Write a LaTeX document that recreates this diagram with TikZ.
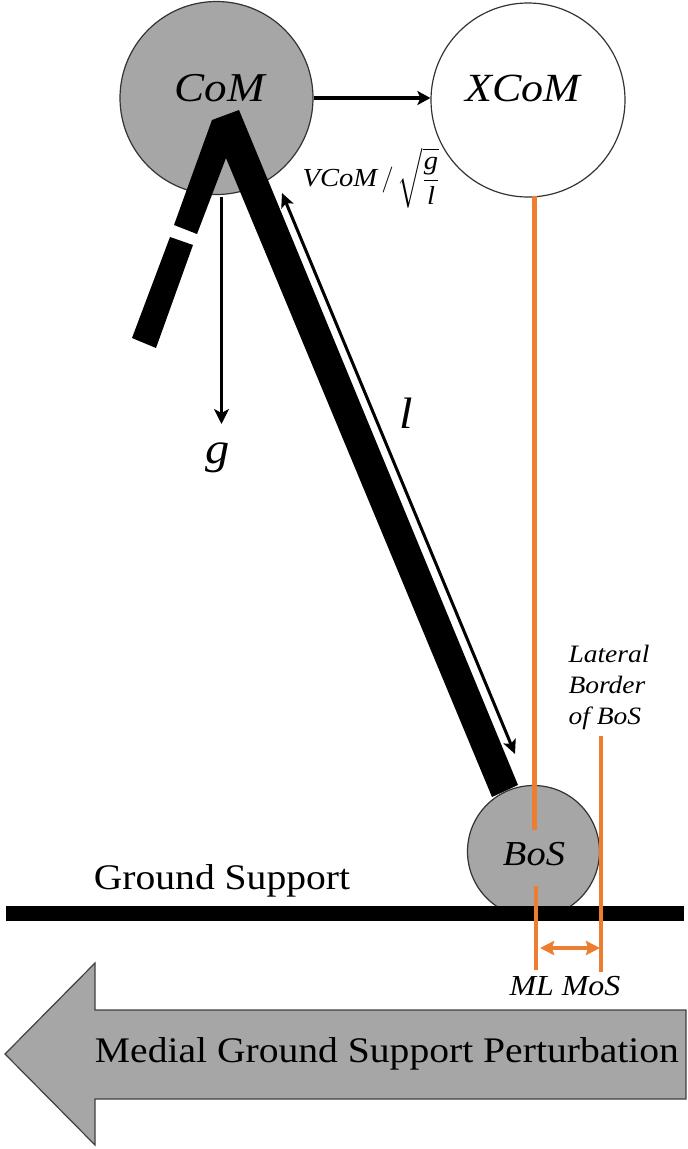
\RequirePackage{fix-cm}
\documentclass[tikz,border=0pt]{standalone}
\usepackage{amsmath}
\usepackage{fontspec}
\setmainfont[FakeStretch=1.1]{Liberation Serif}
\usetikzlibrary{arrows.meta}
\definecolor{greyfill}{HTML}{A6A6A6}
\definecolor{orangeln}{HTML}{ED7D31}
\tikzset{
  x=1pt,y=-1pt,
  ball/.style={circle,draw=black!80,line width=1.2pt,inner sep=0pt},
  limb/.style={fill=black,draw=none},
  vec/.style={black,line width=3.5pt,-{Stealth[length=13pt,width=14pt,inset=3pt]}},
  thinvec/.style={black,line width=3pt,-{Stealth[length=15pt,width=15pt,inset=4pt]}},
  orangeline/.style={orangeln,line width=4.5pt},
  lab/.style={inner sep=0pt,font=\itshape},
}
\begin{document}
\begin{tikzpicture}
\useasboundingbox (0,0) rectangle (688,1149);
\node[ball,fill=greyfill,minimum size=193pt] (com) at (216.5,98) {};
\node[ball,fill=white,minimum size=194pt] (xcom) at (528,100) {};
\node[ball,fill=greyfill,minimum size=132pt] (bos) at (533.5,851.5) {};
\node[lab,font=\itshape\fontsize{41}{41}\selectfont] (comt) at (220,88) {CoM};
\node[lab,font=\itshape\fontsize{40}{40}\selectfont] (xcomt) at (523,88) {XCoM};
\node[lab,font=\itshape\fontsize{35}{35}\selectfont] (bost) at (534,854) {BoS};
% limbs
\fill[limb] (239,110) -- (518,785) -- (492,797) -- (226,158) -- (197,234) -- (174,225) -- (212,120) -- cycle;
\fill[limb] (170,237) -- (193,245) -- (156,348) -- (132,338) -- cycle;
% ground
\node[fill=black,inner sep=0pt,minimum width=678pt,minimum height=15pt] (ground) at (345,913.5) {};
\draw[orangeline] (534.5,196) -- (534.5,830);
\draw[orangeline] (536,886) -- (536,970);
\draw[orangeline,line width=4pt] (601,736) -- (601,972);
\coordinate (ml) at (540,948);
\coordinate (lb) at (600,948);
\draw[orangeln,line width=3.5pt,{Stealth[length=14pt,width=14pt,inset=2pt]}-{Stealth[length=14pt,width=14pt,inset=2pt]}] (ml) -- (lb);
% vectors
\draw[vec] (com.east) -- (com.east -| xcom.west);
\coordinate (ga) at (221.5,197);
\coordinate (gb) at (221.5,424);
\draw[thinvec] (ga) -- (gb);
\coordinate (la) at (515,754);
\coordinate (lc) at (282,193);
\draw[black,line width=3pt,{Stealth[length=14pt,width=13pt,inset=3pt]}-{Stealth[length=14pt,width=13pt,inset=3pt]}] (lc) -- (la);
% labels
\node[lab,font=\itshape\fontsize{44}{44}\selectfont] (gt) at (218,458) {g};
\node[lab,font=\itshape\fontsize{44}{44}\selectfont] (lt) at (406,413) {l};
\node[inner sep=0pt] (vcom) at (371,178) {\fontsize{26}{26}\selectfont\itshape VCoM\,$/$\,$\displaystyle\sqrt{\frac{\textit{g}}{\textit{l}}}$};
\node[lab,align=left,font=\itshape\fontsize{25}{31}\selectfont] (lat) at (609,687) {Lateral\\Border\\of BoS};
\node[lab,font=\itshape\fontsize{29}{29}\selectfont] (mlt) at (565,986) {ML MoS};
\node[inner sep=0pt,font=\fontsize{36}{36}\selectfont] (gs) at (222,881) {Ground Support};
% big arrow
\draw[draw=black!75,line width=1.2pt,fill=greyfill] (5,1054) -- (95,963) -- (95,1010) -- (686,1010) -- (686,1099) -- (95,1099) -- (95,1145) -- cycle;
\node[inner sep=0pt,font=\fontsize{36}{36}\selectfont] (mg) at (387,1054) {Medial Ground Support Perturbation};
\end{tikzpicture}
\end{document}
